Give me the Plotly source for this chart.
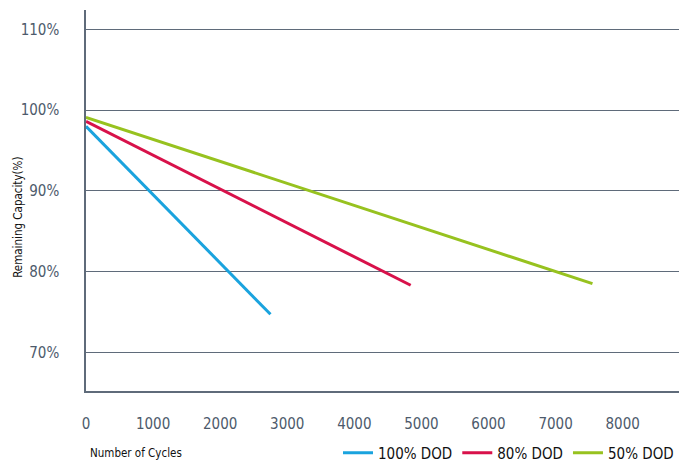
import plotly.graph_objects as go

# Data
series_names = ["100% DOD", "80% DOD", "50% DOD"]
series_colors = ["#1aa3de", "#d8114a", "#97c21f"]
cycles_100 = [0, 2750]
capacity_100 = [98.0, 74.7]
cycles_80 = [0, 4840]
capacity_80 = [98.6, 78.3]
cycles_50 = [0, 7550]
capacity_50 = [99.1, 78.5]

x_tick_vals = [0, 1000, 2000, 3000, 4000, 5000, 6000, 7000, 8000]
y_tick_vals = [70, 80, 90, 100, 110]
y_tick_text = ["70%", "80%", "90%", "100%", "110%"]

FONT = "DejaVu Sans Condensed, Liberation Sans Narrow, Arial Narrow, sans-serif"
TICK_COLOR = "#4d5a6b"
GRID_COLOR = "#5f6b7a"

fig = go.Figure()
for xs, ys, name, col in [
    (cycles_100, capacity_100, series_names[0], series_colors[0]),
    (cycles_80, capacity_80, series_names[1], series_colors[1]),
    (cycles_50, capacity_50, series_names[2], series_colors[2]),
]:
    fig.add_trace(go.Scatter(x=xs, y=ys, mode="lines", name=name,
                             line=dict(color=col, width=3)))

fig.update_layout(
    width=680, height=466,
    margin=dict(l=86, r=1, t=10, b=75, autoexpand=False),
    paper_bgcolor="white", plot_bgcolor="white",
    font=dict(family=FONT, size=15, color="#111111"),
    showlegend=True,
    legend=dict(orientation="h", x=1.0, xanchor="right", y=-0.163, yanchor="middle",
                font=dict(family=FONT, size=15, color="#111111"),
                itemwidth=30, tracegroupgap=0, bgcolor="rgba(0,0,0,0)"),
    xaxis=dict(range=[0, 8840], tickvals=x_tick_vals, showgrid=False, zeroline=False,
               automargin=False,
               showline=True, linecolor=GRID_COLOR, linewidth=1.5,
               ticks="outside", ticklen=18, tickcolor="rgba(0,0,0,0)",
               tickfont=dict(family=FONT, size=15, color=TICK_COLOR)),
    yaxis=dict(range=[65.2, 112.4], tickvals=y_tick_vals, ticktext=y_tick_text,
               showgrid=True, gridcolor=GRID_COLOR, gridwidth=1, zeroline=False,
               automargin=False,
               showline=True, linecolor=GRID_COLOR, linewidth=1.5,
               ticks="outside", ticklen=22, tickcolor="rgba(0,0,0,0)",
               tickfont=dict(family=FONT, size=15, color=TICK_COLOR)),
)

fig.add_annotation(text="Number of Cycles", xref="paper", yref="paper",
                   x=0.003, y=-0.163, xanchor="left", yanchor="middle",
                   showarrow=False, font=dict(family=FONT, size=11.5, color="#111111"))
fig.add_annotation(text="Remaining Capacity(%)", xref="paper", yref="paper",
                   x=-0.116, y=0.455, xanchor="center", yanchor="middle", textangle=-90,
                   showarrow=False,
                   font=dict(family=FONT, size=11.5, color="#111111"))

fig.write_html("out.html", config={"displayModeBar": False},
               post_script="document.body.style.margin='0';document.body.style.overflow='hidden';")
